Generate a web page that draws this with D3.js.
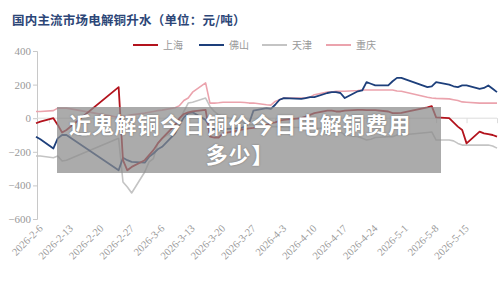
<!DOCTYPE html>
<html><head><meta charset="utf-8">
<script src="https://cdn.jsdelivr.net/npm/d3@7"></script>
<style>html,body{margin:0;padding:0;background:#fff;}svg{display:block;}</style>
</head><body>
<svg id="c" width="500" height="282"></svg>
<script>
const title = "国内主流市场电解铜升水（单位：元/吨）";
const seriesNames = ["上海", "佛山", "天津", "重庆"];
const seriesColors = ["#b3131d", "#1d3f7b", "#c4c4c4", "#eba3ad"];
const dates = ["2026-2-5","2026-2-6","2026-2-9","2026-2-10","2026-2-11","2026-2-12","2026-2-24","2026-2-25","2026-2-26","2026-2-27",
"2026-3-2","2026-3-3","2026-3-4","2026-3-5","2026-3-6","2026-3-9","2026-3-10","2026-3-11","2026-3-12","2026-3-13",
"2026-3-16","2026-3-17","2026-3-18","2026-3-19","2026-3-20","2026-3-23","2026-3-24","2026-3-25","2026-3-26","2026-3-27",
"2026-3-30","2026-3-31","2026-4-1","2026-4-2","2026-4-3","2026-4-7","2026-4-8","2026-4-9","2026-4-10",
"2026-4-13","2026-4-14","2026-4-15","2026-4-16","2026-4-17","2026-4-20","2026-4-21","2026-4-22","2026-4-23","2026-4-24",
"2026-4-27","2026-4-28","2026-4-29","2026-4-30","2026-5-6","2026-5-7","2026-5-8",
"2026-5-11","2026-5-12","2026-5-13","2026-5-14","2026-5-15","2026-5-18","2026-5-19","2026-5-20","2026-5-21","2026-5-22"];
const shanghai = [-30,-20,0,-40,-85,-70,185,-250,-310,-290,
-250,-220,-190,-150,-120,-40,0,25,35,40,
50,-110,-115,-115,-90,-75,-70,-65,-60,-58,
-40,-30,-25,-15,-10,0,10,20,30,
45,45,40,40,45,50,50,48,48,48,
40,30,30,32,65,72,5,
0,-25,-50,-70,-150,-80,-90,-95,-100,-110];
const foshan = [-110,-125,-180,-120,-100,-100,-310,-235,-250,-260,
-265,-230,-210,-185,-170,-90,-40,5,30,35,
-10,-55,-65,-70,-65,-60,-60,-50,-30,45,
60,55,80,110,120,115,120,125,125,
150,155,155,150,120,160,165,215,205,195,
195,220,240,240,185,190,215,
200,190,185,195,195,175,180,195,175,155];
const tianjin = [-225,-225,-235,-225,-255,-250,-120,-380,-410,-445,
-320,-260,-240,-150,-120,-70,-10,40,90,95,
120,70,40,20,10,-10,-20,-30,-40,-40,
-45,-50,-50,-50,-55,-55,-60,-60,-60,
-60,-65,-70,-80,-100,-110,-120,-130,-125,-115,
-110,-110,-100,-100,-85,-82,-130,
-130,-135,-150,-160,-160,-160,-160,-160,-165,-178];
const chongqing = [40,40,45,60,60,60,5,10,15,20,
30,35,40,45,48,62,75,105,120,155,
210,90,90,92,95,95,95,93,90,90,
80,78,100,110,120,120,122,125,140,
155,155,160,160,160,165,168,168,168,168,
168,168,162,160,125,120,118,
115,110,105,97,95,90,90,90,90,90];
const yTicks = [400, 200, 0, -200, -400, -600];
const xTickLabels = ["2026-2-6","2026-2-13","2026-2-20","2026-2-27","2026-3-6","2026-3-13","2026-3-20","2026-3-27",
"2026-4-3","2026-4-10","2026-4-17","2026-4-24","2026-5-1","2026-5-8","2026-5-15"];
const overlayLines = ["近鬼解铜今日铜价今日电解铜费用", "多少】"];

const parse = d3.timeParse("%Y-%m-%d");
const svg = d3.select("#c");
const x = d3.scaleTime().domain([parse("2026-2-5"), parse("2026-5-22")]).range([36, 497]);
const y = d3.scaleLinear().domain([-600, 400]).range([219, 51]);

// title
svg.append("text").attr("x", 12).attr("y", 25).text(title)
  .attr("font-family", "'Noto Sans CJK SC'").attr("font-weight", 700)
  .attr("font-size", 12.5).attr("letter-spacing", 0.2).attr("fill", "#2c4677");

// legend
const lg = svg.append("g");
const legX = [133, 199, 262, 326];
seriesNames.forEach((n, i) => {
  lg.append("line").attr("x1", legX[i]).attr("x2", legX[i] + 25).attr("y1", 45).attr("y2", 45)
    .attr("stroke", seriesColors[i]).attr("stroke-width", 2);
  lg.append("text").attr("x", legX[i] + 30).attr("y", 49).text(n)
    .attr("font-family", "'Noto Sans CJK SC'").attr("font-size", 10).attr("fill", "#999");
});

// y axis
const ya = svg.append("g").attr("transform", "translate(37,0)")
  .call(d3.axisLeft(y).tickValues(yTicks).tickSize(4).tickPadding(2));
ya.select(".domain").attr("stroke", "#c8c8c8");
ya.selectAll(".tick line").attr("stroke", "#c8c8c8");
ya.selectAll("text").attr("font-family", "'Liberation Serif'").attr("font-size", 11).attr("fill", "#999");

// x axis at zero
const tickDates = d3.timeDay.every(7).range(parse("2026-2-6"), parse("2026-5-23"));
const xa = svg.append("g").attr("transform", `translate(0,${y(0)})`)
  .call(d3.axisBottom(x).tickValues(tickDates).tickSize(5).tickFormat(""));
xa.select(".domain").attr("stroke", "#dcdcdc").attr("d", `M37,0H497`);
xa.selectAll(".tick line").attr("stroke", "#dcdcdc");

// x labels
const xl = svg.append("g");
xTickLabels.forEach(l => {
  const px = x(parse(l));
  xl.append("text").attr("transform", `translate(${px + 3},229) rotate(-45)`)
    .attr("text-anchor", "end").text(l)
    .attr("font-family", "'Liberation Serif'").attr("font-size", 10.5).attr("fill", "#999");
});

// lines
const allSeries = [shanghai, foshan, tianjin, chongqing];
const widths = [1.8, 1.8, 1.6, 1.6];
const line = d3.line().x((d, i) => x(parse(dates[i]))).y(d => y(d));
[2, 3, 1, 0].forEach(k => {
  svg.append("path").datum(allSeries[k]).attr("d", line)
    .attr("fill", "none").attr("stroke", seriesColors[k]).attr("stroke-width", widths[k])
    .attr("stroke-linejoin", "round");
});

// overlay
svg.append("rect").attr("x", 57).attr("y", 107).attr("width", 384).attr("height", 66)
  .attr("fill", "#8a8a8a").attr("opacity", 0.72);
overlayLines.forEach((t, i) => {
  svg.append("text").attr("x", 240).attr("y", 133 + i * 30).attr("text-anchor", "middle").text(t)
    .attr("font-family", "'Noto Sans CJK SC'").attr("font-weight", 700).attr("font-size", 22)
    .attr("letter-spacing", 0.8).attr("fill", "#fff")
    .style("text-shadow", "0 0 2px rgba(0,0,0,0.35)");
});
</script>
</body></html>
